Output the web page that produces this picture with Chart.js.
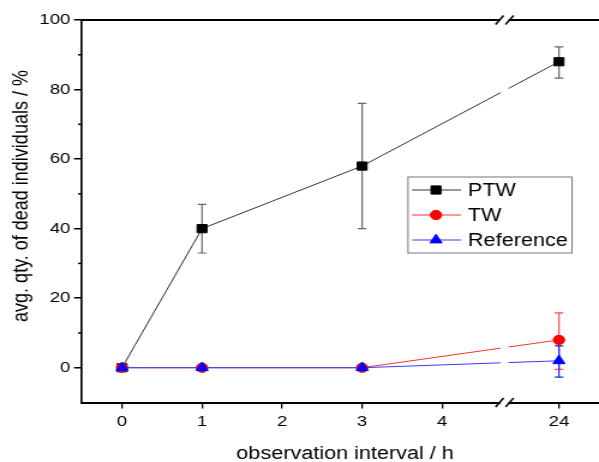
<!DOCTYPE html>
<html>
<head>
<meta charset="utf-8">
<script src="https://cdn.jsdelivr.net/npm/chart.js@4"></script>
<style>
  html, body { margin: 0; padding: 0; background: #fff; overflow: hidden; }
  /* the source figure is stretched horizontally, so the whole canvas is too */
  #wrap { width: 499px; height: 462px; transform: scaleX(1.2004); transform-origin: 0 0; }
</style>
</head>
<body>
<div id="wrap"><canvas id="chart" width="499" height="462"></canvas></div>
<script>
// observation hours and tick labels
const hours = [0, 1, 3, 24];
const xTickHours = [0, 1, 2, 3, 4, 24];
const yTickValues = [0, 20, 40, 60, 80, 100];
const yMinorValues = [10, 30, 50, 70, 90];

// avg. qty. of dead individuals (%), with error bar ends
const ptwMean = [0, 40, 58, 88];
const ptwLow = [0, 33, 40, 83.3];
const ptwHigh = [0, 47, 76, 92.3];
const twMean = [0, 0, 0, 8];
const twLow = [0, 0, 0, -0.5];
const twHigh = [0, 0, 0, 15.8];
const refMean = [0, 0, 0, 2];
const refLow = [0, 0, 0, -2.7];
const refHigh = [0, 0, 0, 6.3];

const FONT = "'Liberation Sans', Arial, sans-serif";
const SX = 1.2004;        // horizontal stretch of the wrapper
const BREAK_POS = 4.78;   // axis position of the break marks

// hours beyond the break are placed just after it
function axisPos(h) {
  return h <= 4 ? h : 5.46 + (h - 24) * 0.05;
}

function points(values) {
  return hours.map((h, i) => ({ x: axisPos(h), y: values[i] }));
}

const errorBars = [
  { low: ptwLow, high: ptwHigh, color: '#666666' },
  { low: twLow, high: twHigh, color: '#ff4a4a' },
  { low: refLow, high: refHigh, color: '#1f1fff' },
];

const decorPlugin = {
  id: 'decor',
  beforeDatasetsDraw(chart) {
    const { ctx, scales: { x, y } } = chart;
    ctx.save();
    ctx.lineWidth = 1.2;
    errorBars.forEach((eb) => {
      ctx.strokeStyle = eb.color;
      hours.forEach((h, i) => {
        if (eb.low[i] === eb.high[i]) return;
        const px = x.getPixelForValue(axisPos(h));
        const y1 = y.getPixelForValue(eb.low[i]);
        const y2 = y.getPixelForValue(eb.high[i]);
        const cap = 3.6;
        ctx.beginPath();
        ctx.moveTo(px, y1); ctx.lineTo(px, y2);
        ctx.moveTo(px - cap, y1); ctx.lineTo(px + cap, y1);
        ctx.moveTo(px - cap, y2); ctx.lineTo(px + cap, y2);
        ctx.stroke();
      });
    });
    ctx.restore();
  },
  afterDatasetsDraw(chart) {
    // gap in the lines at the axis break
    const { ctx, chartArea, scales: { x } } = chart;
    const bx = x.getPixelForValue(BREAK_POS);
    ctx.save();
    ctx.fillStyle = '#fff';
    ctx.fillRect(bx - 4 / SX, chartArea.top + 3, 8 / SX, chartArea.bottom - chartArea.top - 6);
    ctx.restore();
  },
  afterDraw(chart) {
    const { ctx, chartArea, scales: { x, y } } = chart;
    const bx = x.getPixelForValue(BREAK_POS);
    ctx.save();

    // top frame line
    ctx.strokeStyle = '#000';
    ctx.lineWidth = 2;
    ctx.beginPath();
    ctx.moveTo(chartArea.left, chartArea.top);
    ctx.lineTo(chartArea.right, chartArea.top);
    ctx.stroke();

    // break marks on top and bottom axis
    [chartArea.top, chartArea.bottom].forEach((ly) => {
      ctx.fillStyle = '#fff';
      ctx.fillRect(bx - 4 / SX, ly - 2, 8 / SX, 4);
      ctx.strokeStyle = '#000';
      ctx.lineWidth = 1.5;
      [-5, 5].forEach((d) => {
        ctx.beginPath();
        ctx.moveTo(bx + (d - 4) / SX, ly + 4.5);
        ctx.lineTo(bx + (d + 4) / SX, ly - 4.5);
        ctx.stroke();
      });
    });

    // minor ticks on y
    ctx.strokeStyle = '#000';
    ctx.lineWidth = 1.5;
    yMinorValues.forEach((v) => {
      const py = y.getPixelForValue(v);
      ctx.beginPath();
      ctx.moveTo(chartArea.left - 4 / SX, py);
      ctx.lineTo(chartArea.left, py);
      ctx.stroke();
    });

    // axis titles
    ctx.fillStyle = '#000';
    ctx.font = `18px ${FONT}`;
    ctx.textAlign = 'center';
    ctx.textBaseline = 'alphabetic';
    ctx.fillText('observation interval / h', 345 / SX, 459);
    ctx.save();
    ctx.translate(28 / SX, 196);
    ctx.rotate(-Math.PI / 2);
    ctx.fillText('avg. qty. of dead individuals / %', 0, 0);
    ctx.restore();

    // legend
    const box = { left: 408 / SX, top: 177, right: 572 / SX, bottom: 253 };
    ctx.fillStyle = '#fff';
    ctx.fillRect(box.left, box.top, box.right - box.left, box.bottom - box.top);
    ctx.strokeStyle = '#777';
    ctx.lineWidth = 1;
    ctx.strokeRect(box.left, box.top, box.right - box.left, box.bottom - box.top);
    const rowY = [190, 215, 240];
    chart.data.datasets.forEach((ds, i) => {
      const ly = rowY[i];
      ctx.strokeStyle = ds.borderColor;
      ctx.lineWidth = 1;
      ctx.beginPath();
      ctx.moveTo(412 / SX, ly);
      ctx.lineTo(461 / SX, ly);
      ctx.stroke();
      ctx.fillStyle = ds.pointBackgroundColor;
      ctx.strokeStyle = ds.pointBorderColor;
      Chart.helpers.drawPoint(ctx, { pointStyle: ds.pointStyle, radius: ds.pointRadius, rotation: 0, borderWidth: 1 }, 436 / SX, ly);
      ctx.fillStyle = '#000';
      ctx.font = `18px ${FONT}`;
      ctx.textAlign = 'left';
      ctx.textBaseline = 'middle';
      ctx.fillText(ds.label, 468 / SX, ly + 1);
    });

    ctx.restore();
  },
};

new Chart(document.getElementById('chart'), {
  type: 'line',
  data: {
    datasets: [
      {
        label: 'PTW', data: points(ptwMean), order: 2,
        borderColor: '#333333', borderWidth: 1,
        pointStyle: 'rect', pointRadius: 5.8,
        pointBackgroundColor: '#000', pointBorderColor: '#000', pointBorderWidth: 1,
      },
      {
        label: 'TW', data: points(twMean), order: 1,
        borderColor: '#ff3030', borderWidth: 1,
        pointStyle: 'circle', pointRadius: 4.7,
        pointBackgroundColor: '#ff0000', pointBorderColor: '#ff0000', pointBorderWidth: 1,
      },
      {
        label: 'Reference', data: points(refMean), order: 0,
        borderColor: '#3a3aff', borderWidth: 1,
        pointStyle: 'triangle', pointRadius: 5.8,
        pointBackgroundColor: '#0000ff', pointBorderColor: '#0000ff', pointBorderWidth: 1,
      },
    ],
  },
  options: {
    responsive: false,
    animation: false,
    layout: { autoPadding: false, padding: { top: 20, right: 0, left: 0, bottom: 0 } },
    plugins: { legend: { display: false }, tooltip: { enabled: false } },
    scales: {
      x: {
        type: 'linear', min: -0.5, max: 5.96,
        afterBuildTicks: (scale) => { scale.ticks = xTickHours.map((h) => ({ value: axisPos(h) })); },
        afterFit: (scale) => { scale.height = 59.5; },
        ticks: {
          autoSkip: false, maxRotation: 0, padding: 4, color: '#000',
          font: { family: FONT, size: 15.5 },
          callback: (v, i) => String(xTickHours[i]),
        },
        grid: { drawOnChartArea: false, tickLength: 6, color: '#000', lineWidth: 1.3 },
        border: { color: '#000', width: 2 },
      },
      y: {
        min: -10, max: 100,
        afterBuildTicks: (scale) => { scale.ticks = yTickValues.map((v) => ({ value: v })); },
        afterFit: (scale) => { scale.width = 82 / SX; },
        ticks: { padding: 3, color: '#000', font: { family: FONT, size: 15.5 } },
        grid: { drawOnChartArea: false, tickLength: 8 / SX, color: '#000', lineWidth: 1.5 },
        border: { color: '#000', width: 1.7 },
      },
    },
  },
  plugins: [decorPlugin],
});
</script>
</body>
</html>
